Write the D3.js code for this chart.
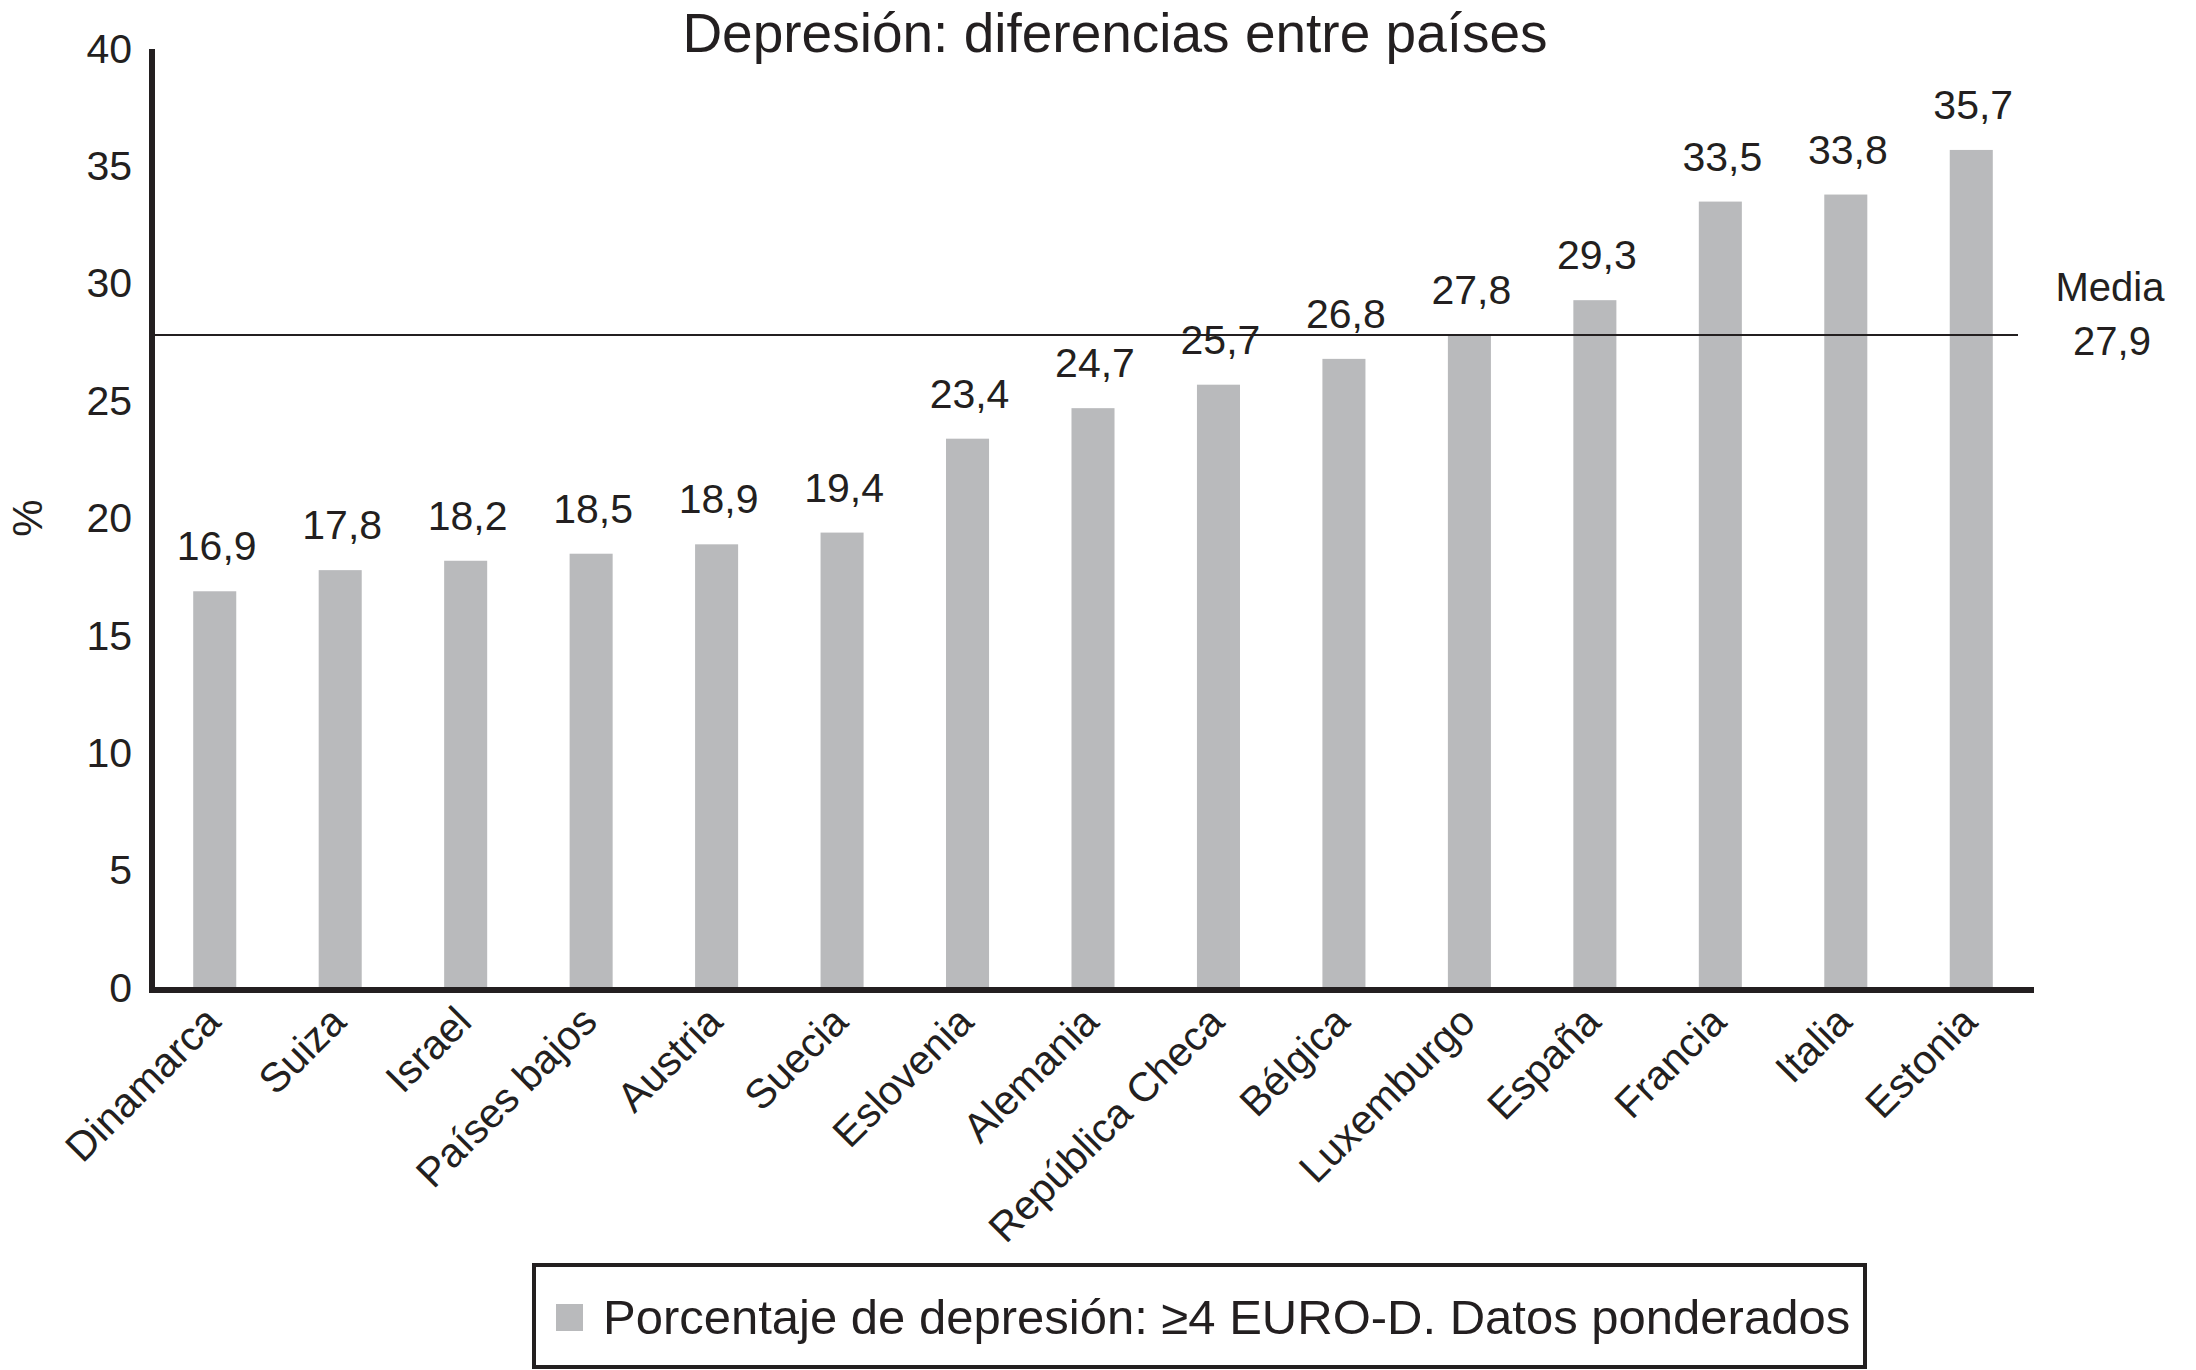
<!DOCTYPE html>
<html>
<head>
<meta charset="utf-8">
<script src="https://cdn.jsdelivr.net/npm/d3@7"></script>
<style>
  body { margin: 0; background: #fff; }
  text { font-family: "Liberation Sans", Arial, sans-serif; fill: #231f20; }
</style>
</head>
<body>
<div id="chart"></div>
<script>
const WIDTH = 2196;
const HEIGHT = 1370;

const countries = ['Dinamarca', 'Suiza', 'Israel', 'Países bajos', 'Austria', 'Suecia', 'Eslovenia',
  'Alemania', 'República Checa', 'Bélgica', 'Luxemburgo', 'España', 'Francia', 'Italia', 'Estonia'];
const values = [16.9, 17.8, 18.2, 18.5, 18.9, 19.4, 23.4, 24.7, 25.7, 26.8, 27.8, 29.3, 33.5, 33.8, 35.7];
const yTicks = [0, 5, 10, 15, 20, 25, 30, 35, 40];
const mean = 27.9;

const TITLE = 'Depresión: diferencias entre países';
const LEGEND = 'Porcentaje de depresión: ≥4 EURO-D. Datos ponderados';

const INK = '#231f20';
const BAR = '#b9babc';

const fmt = v => d3.format('.1f')(v).replace('.', ',');

const svg = d3.select('#chart').append('svg')
  .attr('width', WIDTH)
  .attr('height', HEIGHT);

const x = d3.scaleBand()
  .domain(countries)
  .range([152, 2034])
  .paddingInner(0.657)
  .paddingOuter(0.3285);

const y = d3.scaleLinear()
  .domain([0, 40])
  .range([988, 49]);

// title
svg.append('text')
  .attr('x', 1115)
  .attr('y', 52)
  .attr('text-anchor', 'middle')
  .style('font-size', '55px')
  .text(TITLE);

// bars
svg.append('g')
  .selectAll('rect')
  .data(values)
  .enter()
  .append('rect')
  .attr('x', (d, i) => x(countries[i]))
  .attr('y', d => y(d))
  .attr('width', x.bandwidth())
  .attr('height', d => y(0) - y(d))
  .attr('fill', BAR);

// value labels
svg.append('g')
  .selectAll('text')
  .data(values)
  .enter()
  .append('text')
  .attr('x', (d, i) => x(countries[i]) + x.bandwidth() / 2 + 2)
  .attr('y', d => y(d) - 31)
  .attr('text-anchor', 'middle')
  .style('font-size', '41px')
  .text(d => fmt(d));

// mean line
svg.append('line')
  .attr('x1', 152)
  .attr('x2', 2018)
  .attr('y1', y(mean) + 2)
  .attr('y2', y(mean) + 2)
  .attr('stroke', INK)
  .attr('stroke-width', 2);

svg.append('text')
  .attr('x', 2110)
  .attr('y', 301)
  .attr('text-anchor', 'middle')
  .style('font-size', '40px')
  .text('Media');

svg.append('text')
  .attr('x', 2112)
  .attr('y', 355)
  .attr('text-anchor', 'middle')
  .style('font-size', '40px')
  .text(fmt(mean));

// y axis
const yAxis = svg.append('g')
  .attr('transform', 'translate(152,0)')
  .call(d3.axisLeft(y).tickValues(yTicks).tickSize(0).tickPadding(20));

yAxis.select('.domain').remove();
yAxis.selectAll('text')
  .style('font-size', '41px')
  .attr('fill', INK)
  .style('font-family', '"Liberation Sans", Arial, sans-serif');

svg.append('line')
  .attr('x1', 152).attr('x2', 152)
  .attr('y1', 49).attr('y2', 993)
  .attr('stroke', INK)
  .attr('stroke-width', 6);

// x axis
svg.append('line')
  .attr('x1', 149).attr('x2', 2034)
  .attr('y1', 990).attr('y2', 990)
  .attr('stroke', INK)
  .attr('stroke-width', 6);

svg.append('g')
  .selectAll('text')
  .data(countries)
  .enter()
  .append('text')
  .attr('transform', d => `translate(${x(d) + x.bandwidth() / 2 + 8},1024) rotate(-45)`)
  .attr('text-anchor', 'end')
  .style('font-size', '41px')
  .text(d => d);

// y label
svg.append('text')
  .attr('transform', 'translate(42,518) rotate(-90)')
  .attr('text-anchor', 'middle')
  .style('font-size', '42px')
  .text('%');

// legend
svg.append('rect')
  .attr('x', 534)
  .attr('y', 1265)
  .attr('width', 1331)
  .attr('height', 102)
  .attr('fill', 'none')
  .attr('stroke', INK)
  .attr('stroke-width', 4);

svg.append('rect')
  .attr('x', 556)
  .attr('y', 1304)
  .attr('width', 27)
  .attr('height', 27)
  .attr('fill', BAR);

svg.append('text')
  .attr('x', 603)
  .attr('y', 1334)
  .style('font-size', '49px')
  .text(LEGEND);
</script>
</body>
</html>
